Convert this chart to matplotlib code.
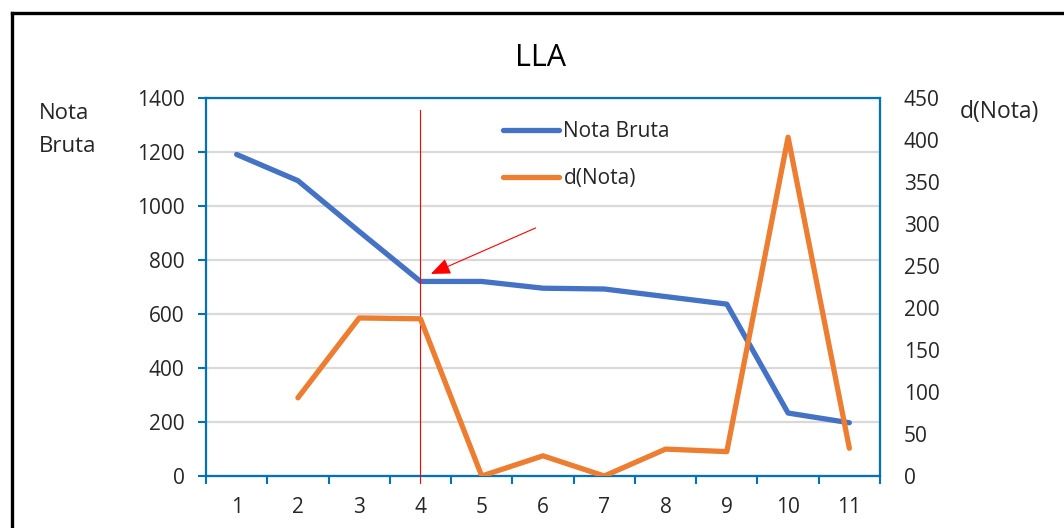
import matplotlib.pyplot as plt
from matplotlib.lines import Line2D

plt.rcParams['font.family'] = ['Open Sans', 'DejaVu Sans']

# data
categories = [1, 2, 3, 4, 5, 6, 7, 8, 9, 10, 11]
nota_bruta = [1190, 1093, 905, 720, 720, 695, 692, 664, 636, 233, 197]
d_nota = [None, 93, 188, 187, 0, 24, 0, 32, 29, 403, 33]
left_ticks = [0, 200, 400, 600, 800, 1000, 1200, 1400]
right_ticks = [0, 50, 100, 150, 200, 250, 300, 350, 400, 450]

# marker line / arrow (data coords)
mark_x = 4
arrow_tail = (5.88, 918)
arrow_head = (4.17, 748)

blue = '#4472C4'
orange = '#ED7D31'
axis_blue = '#0070C0'
grid_grey = '#D9D9D9'
txt = '#262626'

fig = plt.figure(figsize=(10.64, 5.28), dpi=100)
ax = fig.add_axes([206 / 1064, 1 - 476 / 528, 674 / 1064, 378.3 / 528])
ax2 = ax.twinx()

ax.plot(categories, nota_bruta, color=blue, lw=3.8, solid_capstyle='round',
        solid_joinstyle='round', label='Nota Bruta', zorder=3)
d_x = [c for c, v in zip(categories, d_nota) if v is not None]
d_y = [v for v in d_nota if v is not None]
ax2.plot(d_x, d_y, color=orange, lw=3.8, solid_capstyle='round',
         solid_joinstyle='round', label='d(Nota)', zorder=3)

ax.set_xlim(0.5, 11.5)
ax.set_ylim(0, 1400)
ax2.set_ylim(0, 450)
ax.set_yticks(left_ticks)
ax2.set_yticks(right_ticks)
ax.set_xticks(categories)
ax.set_xticks([c - 0.5 for c in categories] + [11.5], minor=True)

ax.grid(axis='y', color=grid_grey, lw=1.6)
ax.set_axisbelow(True)
for sp in ['left', 'right', 'top', 'bottom']:
    ax.spines[sp].set_color(axis_blue)
    ax.spines[sp].set_linewidth(1.6)
    ax2.spines[sp].set_visible(False)

ax.tick_params(axis='y', direction='out', length=5.5, width=1.5, color=axis_blue,
               labelsize=15, labelcolor=txt, pad=10)
ax.tick_params(axis='x', which='major', length=0, labelsize=15, labelcolor=txt, pad=15)
ax.tick_params(axis='x', which='minor', direction='out', length=5.5, width=1.5,
               color=axis_blue)
ax2.tick_params(axis='y', length=0, labelsize=15, labelcolor=txt, pad=17)

# red marker line and arrow
ax.plot([mark_x, mark_x], [-26, 1354], color='red', lw=0.8, clip_on=False, zorder=4)
ax.annotate('', xy=arrow_head, xytext=arrow_tail,
            arrowprops=dict(arrowstyle='-|>,head_length=0.6,head_width=0.25',
                            color='red', lw=0.8, mutation_scale=20,
                            shrinkA=0, shrinkB=0))

fig.text(541 / 1064, 1 - 58 / 528, 'LLA', fontsize=22, ha='center', va='center', color='black')
fig.text(39 / 1064, 1 - 130 / 528, 'Nota\nBruta', fontsize=16, ha='left', va='center',
         color=txt, linespacing=1.7)
fig.text(960 / 1064, 1 - 112 / 528, 'd(Nota)', fontsize=16.5, ha='left', va='center', color=txt)

h1, l1 = ax.get_legend_handles_labels()
h2, l2 = ax2.get_legend_handles_labels()
ax2.legend(h1 + h2, l1 + l2, loc='upper left', bbox_to_anchor=(503 / 1064, 1 - 121 / 528),
           bbox_transform=fig.transFigure, frameon=False, fontsize=15,
           handlelength=2.7, handletextpad=0.2, labelspacing=1.25,
           borderaxespad=0, borderpad=0, labelcolor=txt)

# outer black frame (cut off at right/bottom)
fig.add_artist(Line2D([11.5 / 1064, 1], [1 - 13 / 528, 1 - 13 / 528],
                      transform=fig.transFigure, color='black', lw=2.4))
fig.add_artist(Line2D([11.5 / 1064, 11.5 / 1064], [0, 1 - 13 / 528],
                      transform=fig.transFigure, color='black', lw=2.4))

fig.savefig('out.png', dpi=100)
